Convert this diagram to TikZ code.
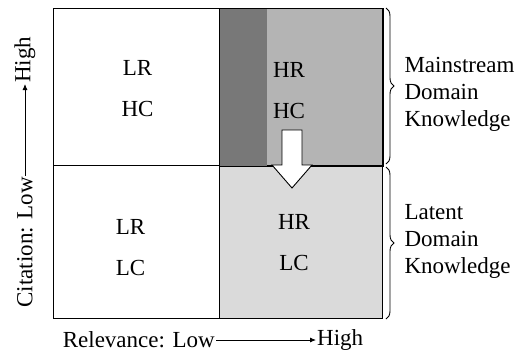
\documentclass[tikz,border=0pt]{standalone}
\usepackage{fontspec}
\setmainfont{Liberation Serif}
\usepackage{tikz}
\usetikzlibrary{positioning, calc, decorations.pathreplacing, arrows.meta}
\definecolor{hrdark}{RGB}{120,120,120}
\definecolor{hrmid}{RGB}{180,180,180}
\definecolor{hrlight}{RGB}{218,218,218}
\tikzset{
  quad/.style={rectangle, draw=black, line width=1pt, anchor=north west,
    inner sep=0pt, minimum width=#1},
  quadtop/.style={quad=#1, minimum height=157},
  quadbot/.style={quad=#1, minimum height=153},
  celltext/.style={align=center, font=\fontsize{23}{41}\selectfont},
  sidetext/.style={align=left, anchor=west, font=\fontsize{23}{27}\selectfont},
  axistext/.style={font=\fontsize{23}{26}\selectfont, inner sep=1pt},
  axisarrow/.style={-{Latex[length=6pt,width=5pt]}, line width=0.8pt},
  bracket/.style={decorate, decoration={brace, amplitude=8pt}, line width=0.9pt}
}
\begin{document}
\begin{tikzpicture}[x=1pt, y=-1pt]
  \useasboundingbox (0,0) rectangle (525,354);

  % four quadrants
  \node[quadtop=166] (lrhc) at (53,8) {};
  \node[quadtop=163, fill=hrmid] (hrhc) at (219,8) {};
  \node[quadbot=166] (lrlc) at (53,165) {};
  \node[quadbot=163, fill=hrlight] (hrlc) at (219,165) {};
  \fill[hrdark] (hrhc.north west) rectangle ($(hrhc.south west)+(48,0)$);
  \draw[line width=1pt] (hrhc.north west) rectangle (hrhc.south east);

  % cell labels
  \node[celltext] (t1) at ($(lrhc.center)+(1,2)$) {LR\\HC};
  \node[celltext] (t2) at ($(hrhc.center)+(-12,4)$) {HR\\HC};
  \node[celltext] (t3) at ($(lrlc.center)+(-6,6)$) {LR\\LC};
  \node[celltext] (t4) at ($(hrlc.center)+(-7,1)$) {HR\\LC};

  % shift arrow
  \coordinate (ar) at (292,130);
  \draw[fill=white, line width=0.9pt] ($(ar)+(-10,0)$) -- ($(ar)+(10,0)$)
    -- ($(ar)+(10,35)$) -- ($(ar)+(20,35)$) -- ($(ar)+(0,58)$)
    -- ($(ar)+(-20,35)$) -- ($(ar)+(-10,35)$) -- cycle;

  % braces
  \draw[bracket] ($(hrhc.north east)+(3,0)$) -- ($(hrhc.south east)+(3,-2)$)
    coordinate[midway] (b1);
  \draw[bracket] ($(hrlc.north east)+(3,2)$) -- ($(hrlc.south east)+(3,0)$)
    coordinate[midway] (b2);
  \node[sidetext] (mdk) at ($(b1)+(15,8)$) {Mainstream\\Domain\\Knowledge};
  \node[sidetext] (ldk) at ($(b2)+(15,-2)$) {Latent\\Domain\\Knowledge};

  % axes
  \node[axistext, anchor=east] (relLow) at (216,340) {Relevance: Low};
  \node[axistext, anchor=west] (relHigh) at (316,340) {High};
  \draw[axisarrow] (relLow.east) -- (relHigh.west);
  \node[axistext, rotate=90, anchor=east] (citLow) at (25,176) {Citation: Low};
  \node[axistext, rotate=90, anchor=west] (citHigh) at (25,84) {High};
  \draw[axisarrow] (citLow.east) -- (citHigh.west);
\end{tikzpicture}
\end{document}
